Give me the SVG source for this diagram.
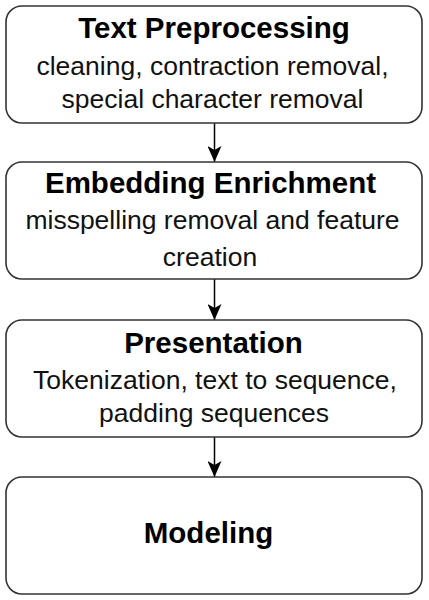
<svg xmlns="http://www.w3.org/2000/svg" width="429" height="600" viewBox="0 0 429 600">
<defs>
<marker id="ah" viewBox="0 0 16 14" markerWidth="16" markerHeight="14" refX="16" refY="7" orient="auto" markerUnits="userSpaceOnUse">
<path d="M0,0 L16,7 L0,14 L4,7 Z" fill="#000"/>
</marker>
</defs>
<style>
.box{fill:#fff;stroke:#333;stroke-width:1.6}
.t{font-family:"Liberation Sans",Arial,sans-serif;font-weight:bold;font-size:29.5px;fill:#000;text-anchor:middle}
.b{font-family:"Liberation Sans",Arial,sans-serif;font-size:26.5px;fill:#111;text-anchor:middle}
.c{stroke:#000;stroke-width:1.5;fill:none}
</style>
<rect width="429" height="600" fill="#fff"/>
<g id="connectors">
<line class="c" x1="214.5" y1="123" x2="214.5" y2="162" marker-end="url(#ah)"/>
<line class="c" x1="214.5" y1="279" x2="214.5" y2="320" marker-end="url(#ah)"/>
<line class="c" x1="214.5" y1="437" x2="214.5" y2="477" marker-end="url(#ah)"/>
</g>
<g id="text-preprocessing">
<rect class="box" x="6" y="6" width="416" height="117" rx="16"/>
<text class="t" x="214" y="38">Text Preprocessing</text>
<text class="b" x="212.5" y="75">cleaning, contraction removal,</text>
<text class="b" x="212.5" y="108">special character removal</text>
</g>
<g id="embedding-enrichment">
<rect class="box" x="6" y="162" width="416" height="117" rx="16"/>
<text class="t" x="210.5" y="193">Embedding Enrichment</text>
<text class="b" x="212.5" y="229">misspelling removal and feature</text>
<text class="b" x="210" y="266">creation</text>
</g>
<g id="presentation">
<rect class="box" x="6" y="320" width="416" height="117" rx="16"/>
<text class="t" x="213.5" y="353">Presentation</text>
<text class="b" x="215" y="389">Tokenization, text to sequence,</text>
<text class="b" x="214" y="422">padding sequences</text>
</g>
<g id="modeling">
<rect class="box" x="6" y="477" width="416" height="117" rx="16"/>
<text class="t" x="208.5" y="543">Modeling</text>
</g>
</svg>
